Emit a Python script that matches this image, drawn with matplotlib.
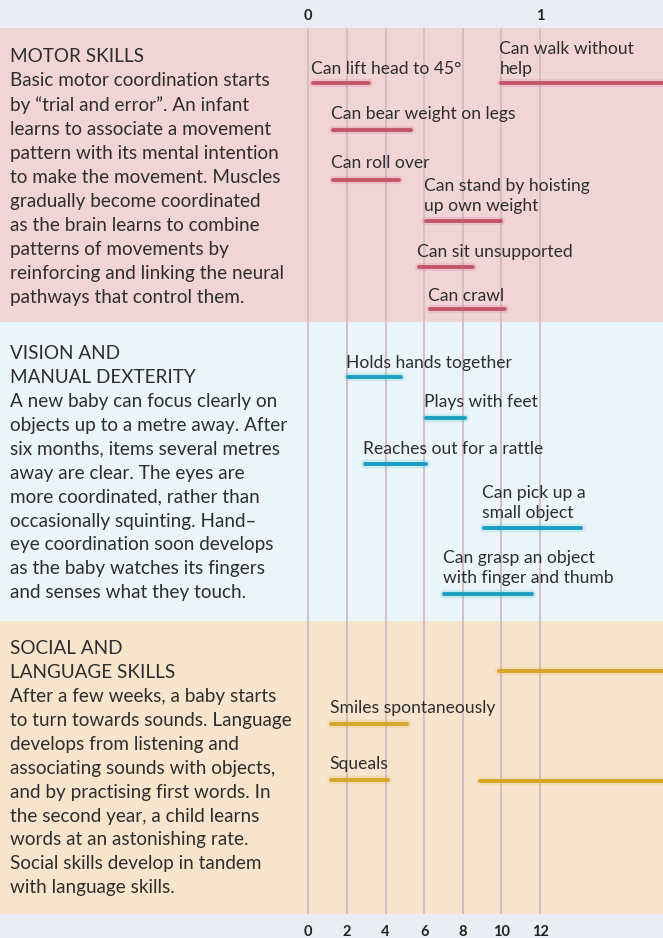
import matplotlib
matplotlib.use("Agg")
import matplotlib.pyplot as plt

plt.rcParams['font.family'] = ['Lato', 'DejaVu Sans']

# ---------------- data (months) ----------------
motor_labels = ["Can lift head to 45°", "Can walk without\nhelp", "Can bear weight on legs",
                "Can roll over", "Can stand by hoisting\nup own weight",
                "Can sit unsupported", "Can crawl"]
motor_start = [0.25, 10.0, 1.3, 1.3, 6.1, 5.75, 6.3]
motor_end = [3.15, 20.0, 5.3, 4.7, 10.0, 8.55, 10.2]

vision_labels = ["Holds hands together", "Plays with feet", "Reaches out for a rattle",
                 "Can pick up a\nsmall object", "Can grasp an object\nwith finger and thumb"]
vision_start = [2.05, 6.1, 2.95, 9.1, 7.05]
vision_end = [4.8, 8.1, 6.1, 14.1, 11.6]

social_labels = ["", "Smiles spontaneously", "Squeals", ""]
social_start = [9.9, 1.2, 1.2, 8.9]
social_end = [20.0, 5.1, 4.15, 20.0]

month_ticks = [0, 2, 4, 6, 8, 10, 12]
year_ticks = [0, 1]

# ---------------- layout ----------------
W, H = 663, 938
x0_px, px_per_month = 308.3, 19.31
motor_rows = [83, 83, 130, 180.5, 221.5, 267, 309]
vision_rows = [377, 418, 464, 528, 594]
social_rows = [671, 724, 780.5, 781.5]
motor_label_dy = [-6, -6, -8, -10, -8, -7, -5]
vision_label_dy = [-6, -8, -7, -7, -8]
social_label_dy = [0, -8, -8, 0]

fig = plt.figure(figsize=(W / 100, H / 100), dpi=100)
fig.patch.set_facecolor('#eaedf3')
ax = fig.add_axes([0, 0, 1, 1])
ax.set_xlim(-x0_px / px_per_month, (W - x0_px) / px_per_month)
ax.set_ylim(H, 0)
ax.axis('off')

panels = [(28, 322, '#f1d5d6'), (322, 621, '#e9f5f8'), (621, 914, '#f7e4cc')]
for top, bot, col in panels:
    ax.axhspan(top, bot, color=col, zorder=0, lw=0)

ax.vlines(month_ticks, 28, 914, color='#d0bcc2', lw=1.3, zorder=1)

txt_col = '#2e2e2e'
for m in month_ticks:
    ax.text(m, 932, str(m), ha='center', va='center', fontsize=10.5,
            fontweight='bold', color='#222222')
for y in year_ticks:
    ax.text(y * 12, 16, str(y), ha='center', va='center', fontsize=10.5,
            fontweight='bold', color='#222222')


def draw_group(labels, starts, ends, rows, dys, color):
    for lab, s, e, r, dy in zip(labels, starts, ends, rows, dys):
        ax.plot([s, e], [r, r], color=color, lw=6, alpha=0.15,
                solid_capstyle='round', zorder=2)
        ax.plot([s, e], [r, r], color=color, lw=2.8,
                solid_capstyle='round', zorder=3)
        if lab:
            ax.text(s - 0.1, r + dy, lab, ha='left', va='bottom', fontsize=12.6,
                    color=txt_col, linespacing=1.3, zorder=4)


draw_group(motor_labels, motor_start, motor_end, motor_rows, motor_label_dy, '#c4566a')
draw_group(vision_labels, vision_start, vision_end, vision_rows, vision_label_dy, '#1a9ec2')
draw_group(social_labels, social_start, social_end, social_rows, social_label_dy, '#d7a52a')

# ---------------- left texts ----------------
motor_text = ("MOTOR SKILLS\nBasic motor coordination starts\nby \u201ctrial and error\u201d. An infant\n"
              "learns to associate a movement\npattern with its mental intention\n"
              "to make the movement. Muscles\ngradually become coordinated\n"
              "as the brain learns to combine\npatterns of movements by\n"
              "reinforcing and linking the neural\npathways that control them.")
vision_text = ("VISION AND\nMANUAL DEXTERITY\nA new baby can focus clearly on\n"
               "objects up to a metre away. After\nsix months, items several metres\n"
               "away are clear. The eyes are\nmore coordinated, rather than\n"
               "occasionally squinting. Hand\u2013\neye coordination soon develops\n"
               "as the baby watches its fingers\nand senses what they touch.")
social_text = ("SOCIAL AND\nLANGUAGE SKILLS\nAfter a few weeks, a baby starts\n"
               "to turn towards sounds. Language\ndevelops from listening and\n"
               "associating sounds with objects,\nand by practising first words. In\n"
               "the second year, a child learns\nwords at an astonishing rate.\n"
               "Social skills develop in tandem\nwith language skills.")

for t, ytop in [(motor_text, 48), (vision_text, 345), (social_text, 640)]:
    fig.text(10 / W, 1 - ytop / H, t, ha='left', va='top', fontsize=13.6,
             color=txt_col, linespacing=1.495)

fig.savefig('out.png', dpi=100, facecolor=fig.get_facecolor())
